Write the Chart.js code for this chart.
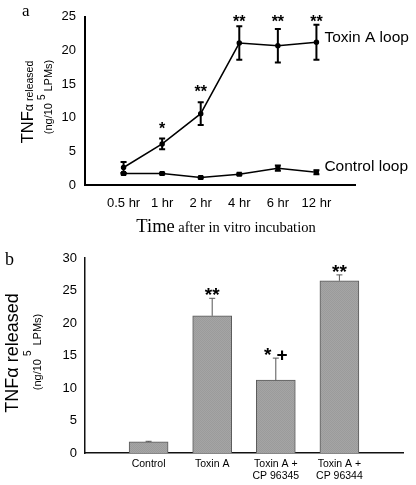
<!DOCTYPE html>
<html>
<head>
<meta charset="utf-8">
<script src="https://cdn.jsdelivr.net/npm/chart.js@4.4.0/dist/chart.umd.min.js"></script>
<style>
  html, body { margin: 0; padding: 0; background: #fff; }
  #wrap { position: relative; width: 416px; height: 485px; }
  canvas { position: absolute; left: 0; }
  #loopChart { top: 0; }
  #barChart { top: 240px; }
</style>
</head>
<body>
<div id="wrap">
  <canvas id="loopChart" width="416" height="240"></canvas>
  <canvas id="barChart" width="416" height="245"></canvas>
</div>
<script>
// panel a - TNF alpha released from loops, by time after incubation
var timeLabels = ['0.5 hr', '1 hr', '2 hr', '4 hr', '6 hr', '12 hr'];
var toxinLoop = [2.6, 6.1, 10.6, 21.1, 20.7, 21.2];
var toxinLoopErr = [0.8, 0.8, 1.7, 2.5, 2.5, 2.6];
var toxinLoopMarks = ['', '*', '**', '**', '**', '**'];
var controlLoop = [1.7, 1.7, 1.1, 1.6, 2.5, 1.9];
var controlLoopErr = [0.1, 0.1, 0.1, 0.1, 0.4, 0.3];
var loopTicks = [0, 5, 10, 15, 20, 25];

// panel b - LPMs with toxin A and the two antagonists
var treatments = ['Control', 'Toxin A', ['Toxin A +', 'CP 96345'], ['Toxin A +', 'CP 96344']];
var released = [1.7, 21.1, 11.2, 26.5];
var releasedErr = [0.1, 2.7, 3.4, 0.9];
var releasedMarks = ['', '**', '* +', '**'];
var barTicks = [0, 5, 10, 15, 20, 25, 30];

var SANS = '"Liberation Sans", Arial, sans-serif';
var SERIF = '"Liberation Serif", "Times New Roman", serif';

Chart.defaults.font.family = SANS;
Chart.defaults.color = '#000';

function toPoints(values) {
    return values.map(function (v, i) { return { x: i + 1, y: v }; });
}

// error bars drawn through the chart scales
function drawErrors(chart, values, errs, color, width, cap, both) {
    var ctx = chart.ctx, xs = chart.scales.x, ys = chart.scales.y;
    ctx.save();
    ctx.strokeStyle = color;
    ctx.lineWidth = width;
    values.forEach(function (v, i) {
        var x = xs.getPixelForValue(i + 1);
        var top = ys.getPixelForValue(v + errs[i]);
        var bot = ys.getPixelForValue(both ? v - errs[i] : v);
        ctx.beginPath();
        ctx.moveTo(x, top); ctx.lineTo(x, bot);
        ctx.moveTo(x - cap, top); ctx.lineTo(x + cap, top);
        if (both) { ctx.moveTo(x - cap, bot); ctx.lineTo(x + cap, bot); }
        ctx.stroke();
    });
    ctx.restore();
}

// significance marks above the error bars (kept inside the plot top)
function drawMarks(chart, values, errs, marks, font, lift, minTop) {
    var ctx = chart.ctx, xs = chart.scales.x, ys = chart.scales.y;
    ctx.save();
    ctx.font = font;
    ctx.fillStyle = '#000';
    ctx.textAlign = 'center';
    ctx.textBaseline = 'alphabetic';
    values.forEach(function (v, i) {
        if (!marks[i]) return;
        var y = Math.max(ys.getPixelForValue(v + errs[i]) + lift, chart.chartArea.top + minTop);
        ctx.fillText(marks[i], xs.getPixelForValue(i + 1), y);
    });
    ctx.restore();
}

// rotated axis title made of pieces with their own font and baseline
function drawRotated(ctx, cy, pieces) {
    ctx.save();
    ctx.translate(0, cy);
    ctx.rotate(-Math.PI / 2);
    ctx.fillStyle = '#000';
    ctx.textBaseline = 'alphabetic';
    var total = 0;
    pieces.forEach(function (p) {
        ctx.font = p.font;
        p.w = ctx.measureText(p.text).width;
        total += p.w + (p.gap || 0);
    });
    var u = -total / 2;
    pieces.forEach(function (p) {
        ctx.font = p.font;
        ctx.fillText(p.text, u, p.v);
        u += p.w + (p.gap || 0);
    });
    ctx.restore();
}

//-----------
//- PANEL A -
//-----------
var loopDecor = {
    id: 'loopDecor',
    afterDatasetsDraw: function (chart) {
        var ctx = chart.ctx;
        drawErrors(chart, toxinLoop, toxinLoopErr, '#000', 2, 3, true);
        drawErrors(chart, controlLoop, controlLoopErr, '#000', 2, 3, true);
        drawMarks(chart, toxinLoop, toxinLoopErr, toxinLoopMarks, 'bold 16px ' + SANS, -5, 10);

        // series names next to the last point
        ctx.save();
        ctx.font = '15.5px ' + SANS;
        ctx.fillStyle = '#000';
        ctx.textBaseline = 'middle';
        ['Toxin A loop', 'Control loop'].forEach(function (name, d) {
            var pts = chart.getDatasetMeta(d).data;
            var last = pts[pts.length - 1];
            ctx.fillText(name, last.x + 8, last.y - 5);
        });

        // panel letter and x title
        ctx.font = '17px ' + SERIF;
        ctx.fillText('a', 22, 12);
        ctx.textBaseline = 'alphabetic';
        ctx.font = '18.5px ' + SERIF;
        var w1 = ctx.measureText('Time').width;
        ctx.font = '14.5px ' + SERIF;
        var w2 = ctx.measureText(' after in vitro incubation').width;
        var x0 = 226 - (w1 + w2) / 2;
        ctx.font = '18.5px ' + SERIF;
        ctx.fillText('Time', x0, 232);
        ctx.font = '14.5px ' + SERIF;
        ctx.fillText(' after in vitro incubation', x0 + w1, 232);
        ctx.restore();

        drawRotated(ctx, 102, [
            { text: 'TNF', font: '16.5px ' + SANS, v: 33 },
            { text: '\u03b1', font: '12.5px ' + SANS, v: 33 },
            { text: ' released', font: '10.5px ' + SANS, v: 33 }
        ]);
        drawRotated(ctx, 97, [
            { text: '(ng/10', font: '11px ' + SANS, v: 52, gap: 3 },
            { text: '5', font: '10px ' + SANS, v: 45, gap: 3 },
            { text: 'LPMs)', font: '11px ' + SANS, v: 52 }
        ]);
    }
};

var loopChart = new Chart(document.getElementById('loopChart'), {
    type: 'line',
    data: {
        datasets: [
            {
                label: 'Toxin A loop',
                data: toPoints(toxinLoop),
                borderColor: '#000',
                backgroundColor: '#000',
                borderWidth: 1.5,
                pointRadius: 2,
                pointStyle: 'circle'
            },
            {
                label: 'Control loop',
                data: toPoints(controlLoop),
                borderColor: '#000',
                backgroundColor: '#000',
                borderWidth: 1.5,
                pointRadius: 2.5,
                pointStyle: 'rect'
            }
        ]
    },
    options: {
        responsive: false,
        animation: false,
        layout: { padding: { top: 15, right: 61, left: 0, bottom: 0 } },
        plugins: { legend: { display: false }, tooltip: { enabled: false } },
        scales: {
            x: {
                type: 'linear',
                min: 0,
                max: timeLabels.length + 1,
                afterFit: function (s) { s.height = 55; },
                grid: { display: false, drawTicks: false },
                border: { display: true, color: '#000', width: 2 },
                ticks: {
                    stepSize: 1,
                    autoSkip: false,
                    maxRotation: 0,
                    padding: 11,
                    font: { size: 13 },
                    callback: function (v) { return timeLabels[v - 1] || ''; }
                }
            },
            y: {
                min: loopTicks[0],
                max: loopTicks[loopTicks.length - 1],
                afterFit: function (s) { s.width = 85; },
                grid: { display: false, drawTicks: false },
                border: { display: true, color: '#000', width: 2 },
                ticks: { stepSize: loopTicks[1] - loopTicks[0], padding: 9, font: { size: 13 } }
            }
        }
    },
    plugins: [loopDecor]
});

//-----------
//- PANEL B -
//-----------
function barFill() {
    var c = document.createElement('canvas');
    c.width = 2; c.height = 2;
    var g = c.getContext('2d');
    g.fillStyle = '#a5a5a5'; g.fillRect(0, 0, 2, 2);
    g.fillStyle = '#9b9b9b'; g.fillRect(0, 0, 1, 1); g.fillRect(1, 1, 1, 1);
    return g.createPattern(c, 'repeat');
}

var barDecor = {
    id: 'barDecor',
    afterDatasetsDraw: function (chart) {
        var ctx = chart.ctx;
        drawErrors(chart, released, releasedErr, '#555', 1, 3, false);
        drawMarks(chart, released, releasedErr, releasedMarks, 'bold 19px ' + SANS, 3, 0);

        ctx.save();
        ctx.fillStyle = '#000';
        ctx.font = '18px ' + SERIF;
        ctx.fillText('b', 5, 25);
        ctx.restore();

        drawRotated(ctx, 113, [
            { text: 'TNF\u03b1 released', font: '18px ' + SANS, v: 18 }
        ]);
        drawRotated(ctx, 112, [
            { text: '(ng/10', font: '11px ' + SANS, v: 41, gap: 3 },
            { text: '5', font: '10px ' + SANS, v: 31, gap: 5 },
            { text: 'LPMs)', font: '11px ' + SANS, v: 41 }
        ]);
    }
};

var barChart = new Chart(document.getElementById('barChart'), {
    type: 'bar',
    data: {
        datasets: [{
            label: 'TNF alpha released',
            data: toPoints(released),
            backgroundColor: barFill(),
            borderColor: '#5a5a5a',
            borderWidth: 1,
            borderSkipped: 'bottom',
            barThickness: 39
        }]
    },
    options: {
        responsive: false,
        animation: false,
        layout: { padding: { top: 18, right: 13, left: 0, bottom: 0 } },
        plugins: { legend: { display: false }, tooltip: { enabled: false } },
        scales: {
            x: {
                type: 'linear',
                offset: false,
                min: 0,
                max: treatments.length + 1,
                afterFit: function (s) { s.height = 32; },
                grid: { display: false, drawTicks: false },
                border: { display: true, color: '#111', width: 1.5 },
                ticks: {
                    stepSize: 1,
                    autoSkip: false,
                    maxRotation: 0,
                    padding: 5,
                    font: { size: 10.5, lineHeight: 1.15 },
                    callback: function (v) { return treatments[v - 1] || ''; }
                }
            },
            y: {
                min: barTicks[0],
                max: barTicks[barTicks.length - 1],
                afterFit: function (s) { s.width = 85; },
                grid: { display: false, drawTicks: false },
                border: { display: true, color: '#111', width: 1.5 },
                ticks: { stepSize: barTicks[1] - barTicks[0], padding: 8, font: { size: 13 } }
            }
        }
    },
    plugins: [barDecor]
});
</script>
</body>
</html>
